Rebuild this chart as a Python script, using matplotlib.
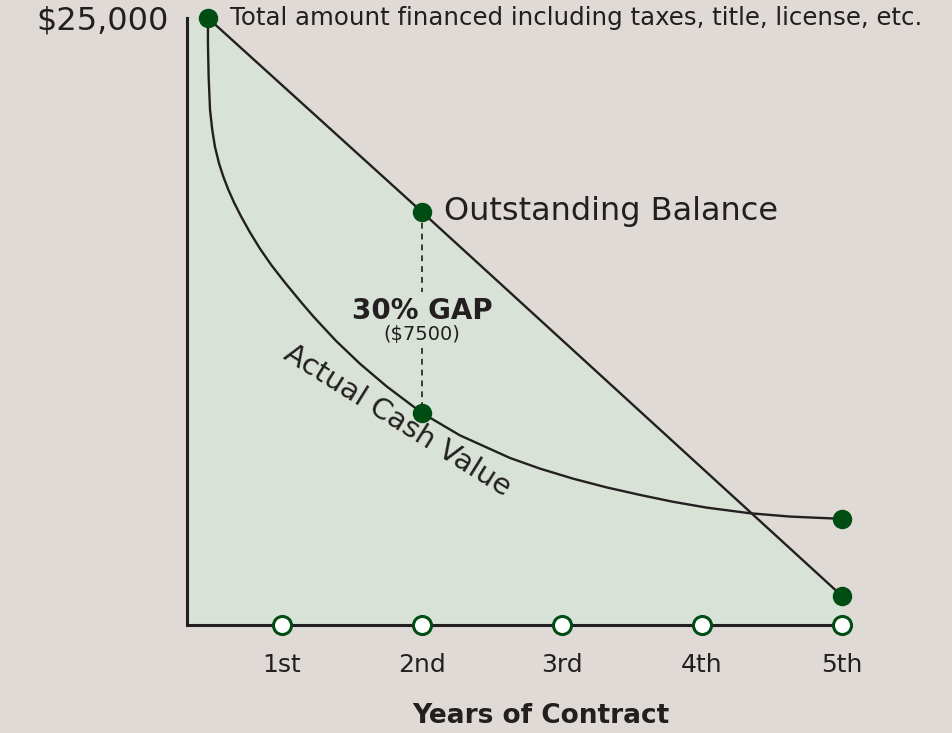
import matplotlib
matplotlib.use("Agg")
import matplotlib.pyplot as plt

# ---- data ----
year_ticks = [1, 2, 3, 4, 5]
year_labels = ["1st", "2nd", "3rd", "4th", "5th"]

start_x = 0.471
total_financed = 25000

balance_x = [start_x, 2, 5]
balance_y = [25000, 17010, 1194]

acv_x = [0.471, 0.471, 0.476, 0.486, 0.502, 0.521, 0.550, 0.581, 0.616,
         0.659, 0.712, 0.771, 0.843, 0.926, 1.021, 1.141, 1.229, 1.386,
         1.557, 1.748, 2.0, 2.271, 2.629, 2.843, 3.079, 3.319, 3.557,
         3.793, 4.034, 4.343, 4.629, 5.0]
acv_y = [25000, 23958, 22582, 21211, 20387, 19700, 19016, 18464, 17939,
         17380, 16781, 16173, 15496, 14807, 14104, 13264, 12674, 11701,
         10760, 9824, 8731, 7810, 6879, 6440, 6027, 5667, 5358,
         5075, 4834, 4602, 4465, 4372]

gap_year = 2
gap_top = 17010
gap_bottom = 8731

BG = "#dfdad6"
FILL = "#d8e2d7"
INK = "#231f20"
GREEN = "#004d14"

plt.rcParams['font.family'] = ['DejaVu Sans']

fig = plt.figure(figsize=(9.53, 7.33), dpi=100, facecolor=BG)
W, H = 953, 733
left, right, bottom, top = 187, 843, 625, 18
ax = fig.add_axes([left / W, 1 - bottom / H, (right - left) / W, (bottom - top) / H])
ax.set_facecolor(BG)

# pixel -> data: year 0 at 142 px, 140 px per year
x0 = (left - 142) / 140
x1 = (right - 142) / 140
ax.set_xlim(x0, x1)
ax.set_ylim(0, total_financed * (bottom - top) / 607)

# shaded area below the outstanding balance
ax.fill_between([x0] + balance_x, [balance_y[0]] + balance_y, 0,
                color=FILL, lw=0, zorder=1)

ax.plot(balance_x, balance_y, color=INK, lw=1.7, zorder=3,
        solid_capstyle='round')
ax.plot(acv_x, acv_y, color=INK, lw=1.7, zorder=3,
        solid_joinstyle='round')

# dashed gap indicator, broken around the label
ax.plot([gap_year, gap_year], [gap_top, 13700], ls=(0, (3.5, 3)),
        color=INK, lw=1.2, zorder=2)
ax.plot([gap_year, gap_year], [11400, gap_bottom], ls=(0, (3.5, 3)),
        color=INK, lw=1.2, zorder=2)

# filled markers
ax.plot([start_x, gap_year, gap_year, 5, 5],
        [total_financed, gap_top, gap_bottom, acv_y[-1], balance_y[-1]],
        'o', ms=13, color=GREEN, mec=GREEN, zorder=5, clip_on=False)
# hollow markers on the year axis
ax.plot(year_ticks, [0] * len(year_ticks), 'o', ms=13, mfc='white',
        mec=GREEN, mew=2.2, zorder=5, clip_on=False)

for s in ['top', 'right']:
    ax.spines[s].set_visible(False)
for s in ['left', 'bottom']:
    ax.spines[s].set_color(INK)
    ax.spines[s].set_linewidth(2.2)
    ax.spines[s].set_zorder(4)

ax.set_xticks(year_ticks)
ax.set_xticklabels(year_labels, fontsize=18, color=INK)
ax.set_yticks([total_financed])
ax.set_yticklabels(["\\$25,000"], fontsize=23, color=INK)
ax.tick_params(axis='x', length=0, pad=20)
ax.tick_params(axis='y', length=0, pad=13)

fig.text(541 / W, 1 - 716 / H, "Years of Contract", fontsize=19,
         fontweight='bold', color=INK, ha='center', va='center')

ax.text(start_x + 0.16, total_financed,
        "Total amount financed including taxes, title, license, etc.",
        fontsize=17.6, color=INK, va='center', ha='left', clip_on=False)
ax.text(gap_year + 0.16, gap_top, "Outstanding Balance", fontsize=23,
        color=INK, va='center', ha='left')
ax.text(gap_year, 12950, "30% GAP", fontsize=20, fontweight='bold',
        color=INK, ha='center', va='center')
ax.text(gap_year, 11970, "(\\$7500)", fontsize=14, color=INK,
        ha='center', va='center')
ax.text(1.82, 8420, "Actual Cash Value", fontsize=21, color=INK,
        rotation=-32, rotation_mode='anchor', ha='center', va='center')

fig.savefig("out.png", dpi=100, facecolor=BG)
